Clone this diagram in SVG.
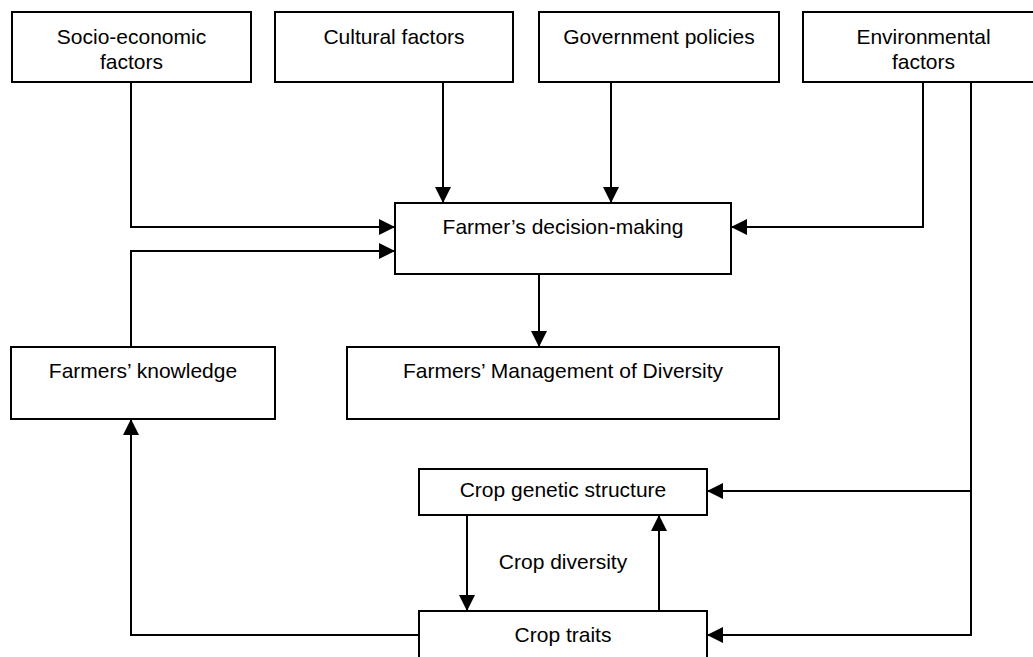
<svg xmlns="http://www.w3.org/2000/svg" width="1033" height="657" viewBox="0 0 1033 657">
<style>
  .box { fill: #ffffff; stroke: #000000; stroke-width: 2; }
  .lbl { font-family: "Liberation Sans", Arial, sans-serif; font-size: 21px; fill: #000000; text-anchor: middle; }
  .con { fill: none; stroke: #000000; stroke-width: 2; }
  .arr { marker-end: url(#ah); }
</style>
<defs>
  <marker id="ah" markerUnits="userSpaceOnUse" markerWidth="16" markerHeight="16" refX="15" refY="7.5" orient="auto" viewBox="0 0 15 15">
    <path d="M0,0 L15,7.5 L0,15 Z" fill="#000000"/>
  </marker>
</defs>
<rect width="1033" height="657" fill="#ffffff"/>

<g id="connectors">
  <path class="con arr" d="M131,82 V227 H395"/>
  <path class="con arr" d="M443,82 V203"/>
  <path class="con arr" d="M611,82 V203"/>
  <path class="con arr" d="M923,82 V227 H731"/>
  <path class="con arr" d="M131,347 V251 H395"/>
  <path class="con arr" d="M539,274 V347"/>
  <path class="con arr" d="M971,82 V491 H707"/>
  <path class="con arr" d="M971,491 V635 H707"/>
  <path class="con arr" d="M467,515 V611"/>
  <path class="con arr" d="M659,611 V515"/>
  <path class="con arr" d="M419,635 H131 V419"/>
</g>

<g id="socio">
  <rect class="box" x="12" y="12" width="239" height="70"/>
  <text class="lbl" x="131.5" y="44">Socio-economic</text>
  <text class="lbl" x="131.5" y="69">factors</text>
</g>
<g id="cultural">
  <rect class="box" x="275" y="12" width="238" height="70"/>
  <text class="lbl" x="394" y="44">Cultural factors</text>
</g>
<g id="government">
  <rect class="box" x="539" y="12" width="240" height="70"/>
  <text class="lbl" x="659" y="44">Government policies</text>
</g>
<g id="environmental">
  <rect class="box" x="803" y="12" width="241" height="70"/>
  <text class="lbl" x="923.5" y="44">Environmental</text>
  <text class="lbl" x="923.5" y="69">factors</text>
</g>
<g id="decision">
  <rect class="box" x="395" y="203" width="336" height="71"/>
  <text class="lbl" x="563" y="234">Farmer’s decision-making</text>
</g>
<g id="knowledge">
  <rect class="box" x="11" y="347" width="264" height="72"/>
  <text class="lbl" x="143" y="378">Farmers’ knowledge</text>
</g>
<g id="management">
  <rect class="box" x="347" y="347" width="432" height="72"/>
  <text class="lbl" x="563" y="378">Farmers’ Management of Diversity</text>
</g>
<g id="genetic">
  <rect class="box" x="419" y="469" width="288" height="46"/>
  <text class="lbl" x="563" y="497">Crop genetic structure</text>
</g>
<g id="diversity-label">
  <text class="lbl" x="563" y="569">Crop diversity</text>
</g>
<g id="traits">
  <rect class="box" x="419" y="611" width="288" height="60"/>
  <text class="lbl" x="563" y="642">Crop traits</text>
</g>
</svg>
